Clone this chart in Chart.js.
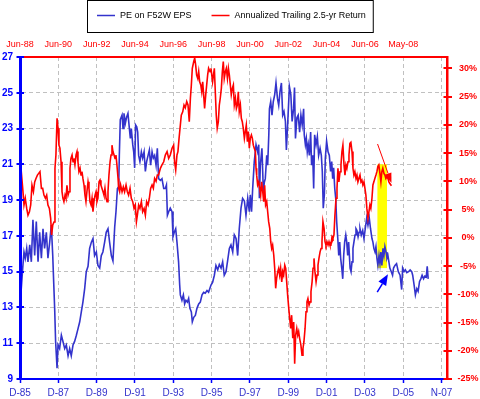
<!DOCTYPE html>
<html>
<head>
<meta charset="utf-8">
<style>
  html, body { margin: 0; padding: 0; background: #fff; }
  #wrap { width: 480px; height: 399px; }
</style>
</head>
<body>
<div id="wrap"><canvas id="chart" width="480" height="399"></canvas></div>
<script src="https://cdn.jsdelivr.net/npm/chart.js@4.4.1/dist/chart.umd.min.js"></script>
<script>
// x values are months counted from Dec-85 (bottom axis).
// The return series is plotted 2.5 years back, so the top axis reads bottom + 2.5 yrs.
const bottomTicks = [0, 24, 48, 72, 96, 120, 144, 168, 192, 216, 240, 264];
const bottomLabels = ['D-85', 'D-87', 'D-89', 'D-91', 'D-93', 'D-95', 'D-97', 'D-99', 'D-01', 'D-03', 'D-05', 'N-07'];
const topTicks = [0, 24, 48, 72, 96, 120, 144, 168, 192, 216, 240];
const topLabels = ['Jun-88', 'Jun-90', 'Jun-92', 'Jun-94', 'Jun-96', 'Jun-98', 'Jun-00', 'Jun-02', 'Jun-04', 'Jun-06', 'May-08'];
const peTicks = [9, 11, 13, 15, 17, 19, 21, 23, 25, 27];
const retTicks = [-25, -20, -15, -10, -5, 0, 5, 10, 15, 20, 25, 30];

const peMonths = [
  0, 0.8, 1.7, 2.5, 3.3, 4.2, 5.0, 6.1, 7.1, 8.1,
  9.2, 10.2, 11.3, 12.3, 13.4, 14.4, 15.4, 16.5, 17.5, 18.6,
  19.6, 20.5, 21.1, 21.7, 22.3, 23.2, 23.8, 24.8, 25.9, 26.9,
  28.0, 29.0, 30.1, 31.1, 32.1, 33.2, 34.2, 35.3, 36.3, 37.4,
  38.4, 39.4, 40.5, 41.5, 42.6, 43.6, 44.7, 45.7, 46.7, 47.8,
  48.8, 49.9, 50.9, 51.9, 53.0, 54.0, 55.1, 56.1, 57.2, 58.2,
  59.3, 60.1, 61.0, 61.8, 62.2, 62.8, 63.9, 64.5, 65.1, 66.0,
  66.8, 67.6, 68.5, 69.1, 69.7, 70.6, 71.2, 71.8, 72.4, 73.1,
  73.7, 74.3, 75.1, 76.0, 76.8, 77.7, 78.5, 79.3, 80.2, 81.0,
  81.8, 82.7, 83.5, 84.3, 85.2, 86.0, 86.8, 87.9, 88.9, 90.0,
  91.0, 91.7, 92.3, 93.1, 94.1, 95.2, 95.8, 96.6, 97.5, 98.3,
  99.3, 100.0, 100.4, 101.4, 102.3, 103.1, 103.9, 104.8, 105.6, 106.4,
  107.3, 107.9, 108.8, 109.8, 110.8, 111.9, 112.9, 114.0, 115.0, 116.0,
  117.1, 118.1, 119.6, 120.6, 121.7, 122.7, 123.8, 124.8, 125.9, 126.9,
  127.9, 129.0, 130.0, 131.1, 132.1, 133.2, 134.2, 135.3, 136.3, 137.3,
  138.4, 139.4, 140.5, 141.5, 142.6, 143.6, 144.2, 145.0, 145.7, 146.7,
  147.8, 148.8, 149.5, 149.9, 150.5, 151.5, 152.4, 153.0, 153.6, 154.5,
  155.1, 155.8, 156.2, 157.0, 157.8, 158.6, 159.5, 160.3, 161.2, 162.0,
  162.8, 163.7, 164.5, 165.3, 166.2, 166.8, 167.7, 168.7, 169.6, 170.4,
  171.3, 171.9, 172.5, 173.4, 174.2, 175.1, 175.9, 176.7, 177.6, 178.0,
  178.7, 179.3, 179.9, 180.5, 181.2, 182.0, 182.6, 183.3, 183.9, 184.5,
  185.4, 186.2, 187.0, 187.9, 188.7, 189.3, 189.9, 190.6, 191.2, 192.0,
  192.9, 193.7, 194.5, 195.2, 195.8, 196.4, 197.1, 197.7, 198.3, 199.0,
  199.6, 200.2, 200.8, 201.5, 202.1, 202.7, 203.3, 204.0, 204.6, 205.2,
  205.8, 206.7, 207.3, 207.9, 208.5, 209.1, 209.8, 210.4, 211.0, 211.7,
  212.3, 212.9, 213.7, 214.6, 215.4, 216.2, 217.1, 217.9, 218.7, 219.5,
  220.4, 221.0, 221.6, 222.3, 222.9, 223.5, 224.1, 224.8, 225.4, 226.0,
  226.6, 227.3, 227.9, 228.5, 229.2, 229.8, 230.4, 231.0, 231.6, 232.5,
  233.3, 233.9, 234.8, 235.8, 236.9, 238.0, 239.0, 239.6, 240.5, 241.3,
  242.2, 243.3, 244.3, 245.3, 245.9, 246.8, 247.6, 248.5, 249.3, 250.2,
  251.0, 251.8, 252.7, 253.5, 254.4, 255.0, 255.6
];
const peValues = [
  13.7, 14.05, 15.2, 16.1, 15.75, 16.3, 15.55, 16.5, 15.55, 17.9,
  15.9, 17.8, 15.55, 17.2, 15.75, 17.4, 16.3, 17.2, 15.75, 16.65,
  17.6, 15.9, 14.4, 12.95, 11.1, 9.6, 10.9, 10.7, 11.45, 11.1,
  10.7, 10.9, 10.3, 10.7, 10.3, 10.9, 11.1, 11.45, 11.8, 12.2,
  12.75, 13.3, 14.05, 15.0, 15.3, 16.3, 16.65, 16.85, 15.9, 16.1,
  15.35, 15.2, 15.9, 16.1, 16.65, 17.2, 17.4, 16.65, 15.9, 15.6,
  17.5, 18.35, 19.65, 19.75, 21.5, 23.5, 23.75, 23.0, 23.85, 23.3,
  23.65, 23.85, 23.0, 22.45, 23.0, 22.1, 21.7, 20.8, 23.2, 23.1,
  22.8, 21.5, 21.15, 21.7, 21.35, 21.7, 20.6, 21.15, 21.5, 21.8,
  20.95, 21.7, 21.35, 21.5, 20.95, 21.9, 20.2, 20.1, 20.2, 19.65,
  19.65, 19.85, 18.15, 18.35, 18.55, 18.35, 16.95, 17.2, 17.4, 16.65,
  15.55, 14.25, 13.7, 13.4, 13.7, 13.2, 13.4, 13.3, 13.5, 12.95,
  12.75, 12.2, 12.45, 12.55, 12.95, 13.2, 13.3, 13.7, 13.85, 13.8,
  13.95, 13.85, 14.25, 14.4, 14.8, 15.35, 15.1, 15.4, 15.2, 15.55,
  14.8, 15.0, 15.6, 16.3, 16.5, 16.1, 17.05, 16.85, 15.9, 17.4,
  18.55, 19.1, 18.95, 18.15, 19.1, 18.35, 19.3, 18.35, 19.65, 21.15,
  22.1, 21.7, 22.1, 19.1, 20.95, 21.9, 19.45, 20.0, 20.2, 21.5,
  20.95, 22.65, 24.1, 24.5, 23.75, 24.5, 24.9, 25.55, 24.7, 24.3,
  25.05, 25.55, 23.75, 23.95, 23.4, 21.8, 23.4, 25.35, 24.9, 23.4,
  24.1, 25.3, 22.45, 23.6, 23.75, 22.8, 23.75, 23.2, 24.1, 22.65,
  22.1, 22.45, 21.7, 22.1, 21.5, 22.8, 20.95, 21.5, 19.65, 22.65,
  22.1, 22.55, 21.5, 21.9, 21.5, 20.6, 18.55, 19.3, 21.35, 22.3,
  21.7, 21.5, 20.6, 21.15, 20.2, 20.8, 19.65, 19.1, 17.8, 16.85,
  15.9, 16.65, 15.75, 15.2, 14.6, 15.9, 16.65, 17.05, 16.65, 15.9,
  16.65, 15.2, 15.0, 15.55, 16.3, 16.65, 17.05, 17.4, 17.3, 16.95,
  17.2, 17.4, 17.05, 17.3, 16.85, 17.4, 18.0, 17.6, 18.0, 17.4,
  16.85, 16.65, 16.3, 16.1, 16.4, 15.75, 15.35, 15.9, 15.45, 16.1,
  15.35, 16.3, 15.9, 16.4, 16.1, 15.75, 15.9, 15.55, 15.2, 15.0,
  14.8, 15.2, 15.35, 15.45, 15.0, 14.8, 14.0, 15.2, 15.0, 15.1,
  14.95, 15.0, 15.1, 15.0, 14.8, 14.25, 13.7, 14.05, 13.9, 14.45,
  14.6, 14.8, 14.6, 14.75, 14.7, 15.3, 14.6
];

const retMonths = [
  0, 0.8, 1.7, 2.5, 3.3, 4.2, 5.0, 5.9, 6.7, 7.5,
  8.4, 9.2, 10.0, 10.9, 11.7, 12.5, 13.4, 14.2, 15.0, 15.9,
  16.7, 17.5, 18.4, 19.2, 19.8, 20.5, 21.3, 21.9, 22.5, 23.2,
  23.8, 24.4, 25.0, 25.7, 26.3, 26.9, 27.5, 28.2, 28.8, 29.4,
  30.1, 30.7, 31.3, 31.9, 32.6, 33.2, 33.8, 34.4, 35.1, 35.7,
  36.3, 36.9, 37.6, 38.2, 38.8, 39.4, 40.1, 40.7, 41.3, 41.9,
  42.6, 43.2, 43.8, 44.5, 45.1, 45.7, 46.3, 47.0, 47.6, 48.2,
  48.8, 49.5, 50.1, 50.7, 51.3, 52.0, 52.6, 53.2, 53.9, 54.5,
  55.1, 55.7, 56.4, 57.0, 57.6, 58.2, 58.9, 59.5, 60.1, 60.7,
  61.4, 61.8, 62.4, 63.0, 63.9, 64.7, 65.5, 66.4, 67.2, 68.0,
  68.9, 69.7, 70.6, 71.4, 72.2, 72.9, 73.5, 74.3, 75.1, 76.0,
  76.8, 77.7, 78.5, 79.3, 80.2, 81.0, 81.8, 82.7, 83.5, 84.3,
  85.2, 86.0, 86.8, 87.9, 88.9, 90.0, 91.0, 92.1, 93.1, 94.1,
  95.2, 96.2, 96.8, 97.5, 98.3, 98.9, 99.6, 100.4, 101.0, 101.9,
  102.7, 103.5, 104.4, 105.2, 106.0, 106.7, 107.3, 107.9, 108.8, 109.4,
  110.0, 110.6, 111.3, 111.9, 112.5, 113.2, 113.8, 114.4, 115.0, 115.6,
  116.3, 116.9, 117.5, 118.1, 119.0, 119.6, 120.6, 121.7, 122.2, 122.9,
  123.5, 124.2, 124.8, 125.4, 126.1, 126.7, 127.3, 127.9, 128.6, 129.2,
  129.9, 130.5, 131.1, 131.7, 132.3, 133.0, 133.6, 134.2, 134.9, 135.5,
  136.1, 136.7, 137.3, 138.0, 138.6, 139.2, 139.8, 140.5, 141.1, 141.7,
  142.4, 143.0, 143.6, 144.2, 144.9, 145.5, 146.1, 146.7, 147.4, 147.8,
  148.2, 148.8, 149.5, 150.1, 150.7, 151.3, 152.0, 152.6, 153.2, 153.8,
  154.5, 155.1, 155.7, 156.4, 157.0, 157.6, 158.2, 158.9, 159.5, 160.1,
  160.7, 161.4, 162.0, 162.6, 163.2, 163.9, 164.5, 165.1, 165.8, 166.4,
  167.0, 167.6, 168.3, 168.9, 169.5, 170.1, 170.8, 171.4, 172.0, 172.6,
  173.3, 173.9, 174.5, 175.1, 175.9, 176.6, 177.2, 177.8, 178.5, 179.1,
  179.7, 180.3, 181.0, 181.6, 182.2, 182.9, 183.5, 184.1, 184.7, 185.4,
  186.0, 186.6, 187.2, 187.9, 188.5, 189.1, 189.7, 190.4, 191.0, 191.6,
  192.2, 192.9, 193.5, 194.1, 194.7, 195.4, 196.0, 196.6, 197.2, 197.9,
  198.5, 199.1, 199.7, 200.4, 201.0, 201.6, 202.2, 202.9, 203.5, 204.1,
  204.7, 205.4, 206.0, 206.6, 207.2, 207.9, 208.5, 209.1, 209.7, 210.4,
  211.0, 211.6, 212.2, 212.9, 213.5, 214.1, 214.7, 215.4, 216.0, 216.6,
  217.2, 217.9, 218.5, 219.1, 219.7, 220.4, 221.0, 221.6, 222.2, 222.9,
  223.5, 224.1, 224.7, 225.4, 226.0, 226.6, 227.2, 227.9, 228.5, 229.1,
  229.7, 230.4, 231.0, 231.6, 232.6
];
const retValues = [
  11.1, 11.7, 8.75, 5.8, 7.0, 5.2, 4.0, 4.6, 5.8, 9.3,
  8.15, 9.9, 10.5, 11.1, 11.4, 11.7, 8.75, 8.75, 7.55, 7.0,
  7.55, 5.8, 5.2, 3.45, 0.5, 2.25, 2.8, 12.3, 14.65, 21.15,
  19.4, 16.4, 15.85, 13.45, 8.15, 7.0, 6.4, 7.55, 7.0, 9.3,
  7.55, 8.15, 12.3, 14.05, 14.65, 13.45, 14.05, 12.9, 14.65, 15.25,
  13.45, 11.7, 12.3, 11.1, 11.7, 10.5, 9.3, 7.55, 6.4, 8.15,
  9.9, 8.75, 6.4, 5.8, 7.0, 4.6, 6.4, 7.55, 8.15, 6.4,
  7.0, 9.9, 10.2, 9.3, 8.75, 8.15, 7.55, 8.75, 7.0, 6.4,
  8.15, 11.1, 13.45, 14.65, 16.4, 15.25, 14.65, 14.05, 14.65, 12.9,
  10.5, 8.75, 8.15, 9.35, 8.15, 9.0, 8.15, 9.35, 8.15, 7.55,
  8.75, 7.0, 6.4, 5.2, 5.8, 2.85, 4.0, 5.8, 5.2, 6.4,
  4.6, 5.2, 4.0, 6.4, 5.8, 7.0, 8.75, 9.35, 8.75, 10.5,
  10.0, 11.1, 11.1, 12.3, 12.9, 13.45, 14.65, 15.25, 14.05, 14.65,
  15.85, 16.4, 13.45, 12.0, 14.65, 15.25, 17.6, 19.95, 21.7, 22.3,
  23.5, 23.0, 24.1, 23.5, 20.55, 24.7, 27.05, 30.0, 31.2, 31.8,
  30.6, 28.8, 28.2, 29.4, 27.6, 27.05, 25.85, 27.6, 25.3, 22.9,
  25.3, 27.05, 28.8, 30.0, 29.4, 30.0, 27.6, 30.0, 26.5, 21.7,
  19.4, 20.55, 23.5, 24.7, 26.5, 29.4, 31.2, 28.2, 29.4, 30.0,
  28.2, 30.0, 28.8, 27.05, 25.3, 26.5, 27.05, 23.5, 24.7, 22.9,
  23.5, 25.85, 22.3, 23.5, 21.15, 20.55, 19.4, 17.6, 18.8, 19.95,
  17.0, 18.8, 15.85, 17.6, 18.2, 17.6, 16.4, 15.85, 15.25, 12.3,
  11.1, 9.35, 9.9, 8.75, 7.55, 9.9, 8.15, 6.4, 9.3, 5.8,
  6.4, 4.6, 2.85, 1.65, -0.7, -1.9, -1.3, -3.05, -5.4, -8.95,
  -7.2, -6.0, -5.4, -6.6, -5.4, -7.8, -6.0, -6.6, -4.85, -5.4,
  -7.8, -10.15, -12.5, -14.3, -16.05, -13.7, -17.8, -14.9, -22.3, -17.25,
  -16.05, -17.25, -16.6, -17.8, -19.0, -20.8, -19.6, -18.4, -16.05, -13.1,
  -11.35, -10.75, -11.9, -11.35, -9.55, -7.8, -5.4, -3.65, -6.0, -7.8,
  -6.6, -4.85, -3.65, -2.5, -1.9, -0.7, 2.85, 1.65, -0.7, -1.3,
  -0.7, -1.3, -0.7, -1.3, -1.3, 0.2, -0.1, 0.5, 4.0, 7.0,
  8.75, 12.3, 9.9, 11.7, 12.9, 15.25, 16.4, 12.9, 11.1, 12.9,
  12.3, 13.45, 14.65, 16.7, 16.9, 15.25, 12.3, 11.1, 11.7, 10.5,
  11.1, 9.9, 10.5, 11.1, 9.9, 10.2, 9.35, 9.9, 8.75, 7.55,
  5.2, 3.45, 4.6, 5.8, 5.2, 7.0, 9.35, 9.9, 10.5, 11.1,
  11.7, 12.6, 12.9, 11.4, 9.9, 11.7, 12.3, 11.4, 11.1, 10.5,
  10.8, 10.5, 9.9, 9.6, 9.2
];

// the hand-drawn markup on the original, in data units
const highlight = { from: 223.8, to: 229.8, peLow: 15.2, peHigh: 21.0 };
const redArrow = { from: [223.9, 16.6], to: [232.6, 9.7] };   // right axis (%)
const blueArrow = { from: [223.7, 13.85], to: [230.4, 14.85] }; // left axis (PE)

const FONT = '"Liberation Sans", Arial, sans-serif';
const LINE_BLUE = '#3333cc';
const AXIS_BLUE = '#0000ff';
const RED = '#ff0000';
const GRID = '#c0c0c0';
const X_MAX = 267.7;

function toPoints(xs, ys) {
    return xs.map((x, i) => ({x: x, y: ys[i]}));
}

function drawArrow(ctx, x1, y1, x2, y2, color, width, len, half) {
    const ang = Math.atan2(y2 - y1, x2 - x1);
    const bx = x2 - len * Math.cos(ang);
    const by = y2 - len * Math.sin(ang);
    ctx.strokeStyle = color;
    ctx.fillStyle = color;
    ctx.lineWidth = width;
    ctx.beginPath();
    ctx.moveTo(x1, y1);
    ctx.lineTo(bx, by);
    ctx.stroke();
    ctx.beginPath();
    ctx.moveTo(x2, y2);
    ctx.lineTo(bx + half * Math.sin(ang), by - half * Math.cos(ang));
    ctx.lineTo(bx - half * Math.sin(ang), by + half * Math.cos(ang));
    ctx.closePath();
    ctx.fill();
}

const markup = {
    id: 'markup',
    beforeDatasetsDraw(chart) {
        const {ctx, scales} = chart;
        const l = scales.x.getPixelForValue(highlight.from);
        const r = scales.x.getPixelForValue(highlight.to);
        const t = scales.y.getPixelForValue(highlight.peHigh);
        const b = scales.y.getPixelForValue(highlight.peLow);
        ctx.save();
        ctx.fillStyle = '#ffff00';
        ctx.fillRect(l, t, r - l, b - t);
        ctx.restore();
    },
    afterDatasetsDraw(chart) {
        const {ctx, scales} = chart;
        ctx.save();
        drawArrow(ctx,
            scales.x.getPixelForValue(redArrow.from[0]), scales.y2.getPixelForValue(redArrow.from[1]),
            scales.x.getPixelForValue(redArrow.to[0]), scales.y2.getPixelForValue(redArrow.to[1]),
            RED, 1, 10, 3.5);
        drawArrow(ctx,
            scales.x.getPixelForValue(blueArrow.from[0]), scales.y.getPixelForValue(blueArrow.from[1]),
            scales.x.getPixelForValue(blueArrow.to[0]), scales.y.getPixelForValue(blueArrow.to[1]),
            AXIS_BLUE, 1.5, 11, 4.5);
        ctx.restore();
    }
};

// tick marks that cross the vertical axes, plus the boxed legend
const frame = {
    id: 'frame',
    afterDraw(chart) {
        const {ctx, chartArea: a, scales} = chart;
        ctx.save();
        ctx.lineWidth = 2;
        ctx.strokeStyle = AXIS_BLUE;
        peTicks.forEach(v => {
            const y = Math.round(scales.y.getPixelForValue(v));
            ctx.beginPath(); ctx.moveTo(a.left - 3.5, y); ctx.lineTo(a.left + 4, y); ctx.stroke();
        });
        ctx.strokeStyle = RED;
        retTicks.forEach(v => {
            const y = Math.round(scales.y2.getPixelForValue(v));
            ctx.beginPath(); ctx.moveTo(a.right - 4, y); ctx.lineTo(a.right + 4.5, y); ctx.stroke();
        });

        // legend
        const items = chart.data.datasets.map(d => ({label: d.label, color: d.borderColor}));
        ctx.font = '9px ' + FONT;
        const sample = 18, gap = 5, spacing = 20;
        const widths = items.map(it => sample + gap + ctx.measureText(it.label).width);
        const total = widths.reduce((s, w) => s + w, 0) + spacing * (items.length - 1);
        let x = Math.round(231 - total / 2);
        const y = 15.5;
        ctx.strokeStyle = '#000';
        ctx.lineWidth = 1;
        ctx.strokeRect(x - 9.5, 0.5, total + 17, 32);
        items.forEach((it, i) => {
            ctx.strokeStyle = it.color;
            ctx.lineWidth = 1.5;
            ctx.beginPath(); ctx.moveTo(x, y); ctx.lineTo(x + sample, y); ctx.stroke();
            ctx.fillStyle = '#000';
            ctx.textBaseline = 'middle';
            ctx.textAlign = 'left';
            ctx.fillText(it.label, x + sample + gap, y);
            x += widths[i] + spacing;
        });
        ctx.restore();
    }
};

new Chart(document.getElementById('chart'), {
    type: 'line',
    data: {
        datasets: [{
            label: 'PE on F52W EPS',
            data: toPoints(peMonths, peValues),
            borderColor: LINE_BLUE,
            borderWidth: 1.6,
            pointRadius: 0,
            tension: 0,
            xAxisID: 'x',
            yAxisID: 'y',
            order: 1
        }, {
            label: 'Annualized Trailing 2.5-yr Return',
            data: toPoints(retMonths, retValues),
            borderColor: RED,
            borderWidth: 1.6,
            pointRadius: 0,
            tension: 0,
            xAxisID: 'x',
            yAxisID: 'y2',
            order: 0
        }]
    },
    options: {
        responsive: false,
        devicePixelRatio: 1,
        animation: false,
        events: [],
        layout: {padding: 0},
        plugins: {legend: {display: false}, tooltip: {enabled: false}},
        scales: {
            x: {
                type: 'linear', position: 'bottom', min: 0, max: X_MAX,
                afterBuildTicks: s => { s.ticks = bottomTicks.map(v => ({value: v})); },
                afterFit: s => { s.height = 20; },
                ticks: {
                    callback: v => bottomLabels[bottomTicks.indexOf(v)],
                    color: LINE_BLUE, font: {family: FONT, size: 10},
                    padding: 4, autoSkip: false, maxRotation: 0
                },
                grid: {color: GRID, tickColor: AXIS_BLUE, tickLength: 4, tickWidth: 1.5},
                border: {color: AXIS_BLUE, width: 2, dash: [4, 3], z: 1}
            },
            x2: {
                type: 'linear', position: 'top', min: 0, max: X_MAX,
                afterBuildTicks: s => { s.ticks = topTicks.map(v => ({value: v})); },
                afterFit: s => { s.height = 57; },
                ticks: {
                    callback: v => topLabels[topTicks.indexOf(v)],
                    color: RED, font: {family: FONT, size: 9},
                    padding: -1.4, autoSkip: false, maxRotation: 0
                },
                grid: {display: false},
                border: {color: RED, width: 2, z: 1}
            },
            y: {
                type: 'linear', position: 'left', min: 9, max: 27,
                afterBuildTicks: s => { s.ticks = peTicks.map(v => ({value: v})); },
                afterFit: s => { s.width = 20; },
                ticks: {color: AXIS_BLUE, font: {family: FONT, size: 10, weight: 'bold'}, padding: 7},
                grid: {color: GRID, drawTicks: false},
                border: {color: AXIS_BLUE, width: 3, dash: [4, 3], z: 1}
            },
            y2: {
                type: 'linear', position: 'right', min: -25, max: 32,
                afterBuildTicks: s => { s.ticks = retTicks.map(v => ({value: v})); },
                afterFit: s => { s.width = 32.5; },
                ticks: {
                    callback: v => v + '%',
                    color: RED, font: {family: FONT, size: 9, weight: 'bold'},
                    padding: 2, crossAlign: 'center'
                },
                grid: {display: false},
                border: {color: RED, width: 2.5, z: 1}
            }
        }
    },
    plugins: [markup, frame]
});
</script>
</body>
</html>
